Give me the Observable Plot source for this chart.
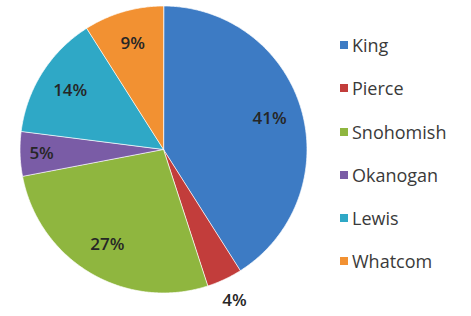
<!DOCTYPE html>
<html>
<head>
<meta charset="utf-8">
<script src="https://cdn.jsdelivr.net/npm/d3@7"></script>
<script src="https://cdn.jsdelivr.net/npm/@observablehq/plot@0.6"></script>
<style>
  html, body { margin: 0; padding: 0; background: #fff; }
  #wrap { position: relative; width: 471px; height: 316px; overflow: hidden; font-family: "Open Sans", sans-serif; }
  #legend { position: absolute; left: 340px; top: 33px; }
  .row { display: flex; align-items: center; height: 24px; margin-bottom: 19.3px; }
  .sw { width: 8px; height: 8px; margin-right: 4px; }
  .lab { font-size: 18px; color: #3a3a3a; line-height: 24px; }
</style>
</head>
<body>
<div id="wrap"></div>
<script>
const counties = ["King", "Pierce", "Snohomish", "Okanogan", "Lewis", "Whatcom"];
const shares = [41, 4, 27, 5, 14, 9];
const colors = ["#3d7bc4", "#c23d3b", "#8fb63f", "#7a5ca6", "#2fa8c6", "#f29132"];

const rows = counties.map((c, i) => ({county: c, share: shares[i]}));
const arcs = d3.pie().sort(null).value(d => d.share)(rows);

// slice outlines (sampled along each arc, from the pie angles)
const outline = [];
for (const a of arcs) {
  const n = Math.max(4, Math.ceil((a.endAngle - a.startAngle) / 0.01));
  outline.push({county: a.data.county, x: 0, y: 0});
  for (let i = 0; i <= n; i++) {
    const t = a.startAngle + (a.endAngle - a.startAngle) * i / n;
    outline.push({county: a.data.county, x: Math.sin(t), y: Math.cos(t)});
  }
}

// label anchor points at mid-angle
const labels = arcs.map(a => {
  const m = (a.startAngle + a.endAngle) / 2;
  const v = a.data.share;
  const k = v < 5 ? 1.16 : v <= 5 ? 0.85 : 0.77;
  return {text: v + "%", x: k * Math.sin(m), y: k * Math.cos(m)};
});

const cx = 163, cy = 149, r = 143.5;
const chart = Plot.plot({
  width: 471,
  height: 316,
  margin: 0,
  style: {fontFamily: "Open Sans, sans-serif", background: "#fff"},
  x: {domain: [-1, 1], range: [cx - r, cx + r], axis: null},
  y: {domain: [-1, 1], range: [cy + r, cy - r], axis: null},
  color: {domain: counties, range: colors},
  marks: [
    Plot.line(outline, {x: "x", y: "y", z: "county", fill: "county", stroke: "#ffffff", strokeWidth: 1, strokeOpacity: 0.7, curve: "linear-closed"}),
    Plot.text(labels, {x: "x", y: "y", text: "text", fontSize: 17, fontWeight: 600, fill: "#262626"})
  ]
});

const wrap = document.getElementById("wrap");
wrap.appendChild(chart);

const legend = d3.select(wrap).append("div").attr("id", "legend");
const row = legend.selectAll(".row").data(counties).join("div").attr("class", "row");
row.append("div").attr("class", "sw").style("background", (d, i) => colors[i]);
row.append("div").attr("class", "lab").text(d => d);
</script>
</body>
</html>
